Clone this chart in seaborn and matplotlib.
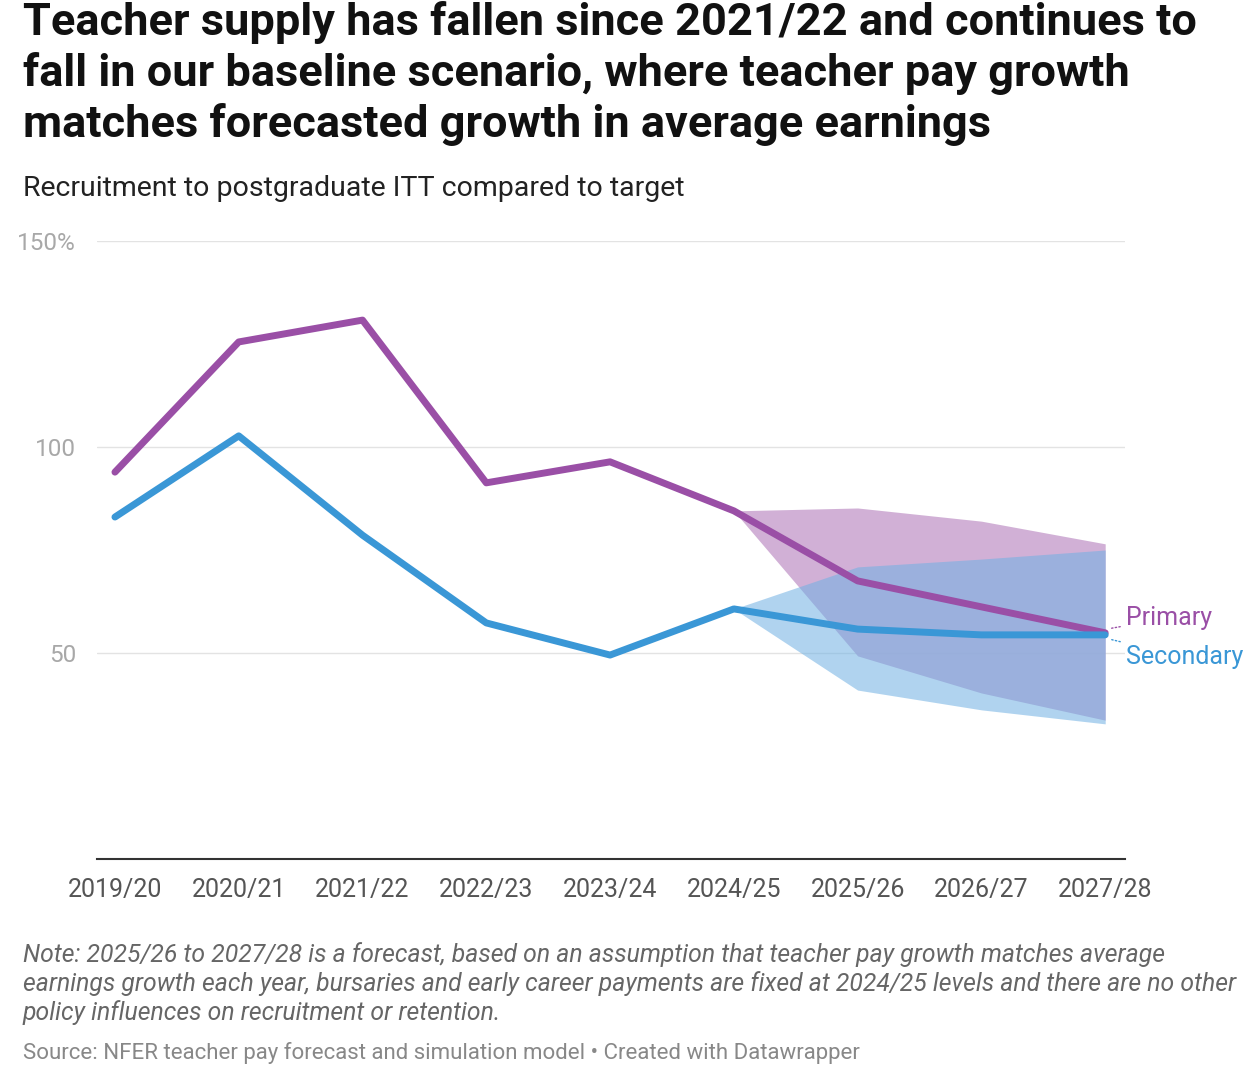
import matplotlib
matplotlib.use("Agg")
import matplotlib.pyplot as plt
import numpy as np
import pandas as pd
import seaborn as sns

years = ["2019/20", "2020/21", "2021/22", "2022/23", "2023/24",
         "2024/25", "2025/26", "2026/27", "2027/28"]
primary = [93.9, 125.5, 130.8, 91.3, 96.4, 84.5, 67.5, 61.2, 54.9]
secondary = [83.0, 102.7, 78.6, 57.3, 49.5, 60.7, 55.8, 54.4, 54.4]
band_years = ["2024/25", "2025/26", "2026/27", "2027/28"]
primary_hi = [84.5, 85.2, 82.0, 76.5]
primary_lo = [84.5, 49.3, 40.3, 33.7]
secondary_hi = [60.7, 70.9, 72.8, 75.0]
secondary_lo = [60.7, 41.0, 36.2, 32.8]

PURPLE = "#9a4fa6"
BLUE = "#3a97d6"

sns.set_theme(style="white")
plt.rcParams["font.family"] = ["Roboto", "DejaVu Sans"]

df = pd.DataFrame({"year": years * 2,
                   "value": primary + secondary,
                   "series": ["Primary"] * 9 + ["Secondary"] * 9})
df["x"] = df["year"].map({y: i for i, y in enumerate(years)})

fig = plt.figure(figsize=(12.58, 10.72), dpi=100)
ax = fig.add_axes([97 / 1258, 1 - 859 / 1072, (1125 - 97) / 1258, (859 - 241) / 1072])

bx = [years.index(y) for y in band_years]
ax.fill_between(bx, primary_lo, primary_hi, color="#c9a3cf", alpha=0.85, lw=0, zorder=1)
ax.fill_between(bx, secondary_lo, secondary_hi, color="#6fb0e3", alpha=0.55, lw=0, zorder=2)

sns.lineplot(data=df, x="x", y="value", hue="series", palette={"Primary": PURPLE, "Secondary": BLUE},
             linewidth=5, ax=ax, legend=False, zorder=3)

ax.set_xlim(-0.145, 8.16)
ax.set_ylim(0, 150)
ax.set_yticks([50, 100, 150])
ax.set_yticklabels(["50", "100", "150%"])
ax.set_xticks(range(len(years)))
ax.set_xticklabels(years)
ax.grid(axis="y", color="#e3e3e3", lw=1)
ax.tick_params(axis="y", length=0, labelsize=17.5, labelcolor="#a8a8a8", pad=15)
ax.tick_params(axis="x", length=0, labelsize=18, labelcolor="#555555", pad=14)
for s in ["left", "right", "top"]:
    ax.spines[s].set_visible(False)
ax.spines["bottom"].set_color("#333333")
ax.spines["bottom"].set_linewidth(1.5)
ax.set_xlabel("")
ax.set_ylabel("")

ax.annotate("Primary", xy=(8.03, primary[-1] + 1), xytext=(8.17, 58.5), color=PURPLE,
            fontsize=18, va="center", annotation_clip=False,
            arrowprops=dict(arrowstyle="-", color=PURPLE, lw=1, ls=":"))
ax.annotate("Secondary", xy=(8.03, secondary[-1] - 1), xytext=(8.17, 49), color=BLUE,
            fontsize=18, va="center", annotation_clip=False,
            arrowprops=dict(arrowstyle="-", color=BLUE, lw=1, ls=":"))

fig.text(23 / 1258, 1 - 1 / 1072,
         "Teacher supply has fallen since 2021/22 and continues to\n"
         "fall in our baseline scenario, where teacher pay growth\n"
         "matches forecasted growth in average earnings",
         fontsize=32.5, fontweight="bold", va="top", linespacing=1.23, color="#111111")
fig.text(23 / 1258, 1 - 189 / 1072, "Recruitment to postgraduate ITT compared to target",
         fontsize=20.5, va="center", color="#222222")
fig.text(23 / 1258, 1 - 942 / 1072,
         "Note: 2025/26 to 2027/28 is a forecast, based on an assumption that teacher pay growth matches average\n"
         "earnings growth each year, bursaries and early career payments are fixed at 2024/25 levels and there are no other\n"
         "policy influences on recruitment or retention.",
         fontsize=17.8, style="italic", va="top", color="#666666", linespacing=1.2)
fig.text(23 / 1258, 1 - 1053 / 1072,
         "Source: NFER teacher pay forecast and simulation model \u2022 Created with Datawrapper",
         fontsize=16, va="center", color="#888888")

fig.savefig("out.png", dpi=100, facecolor="white")
